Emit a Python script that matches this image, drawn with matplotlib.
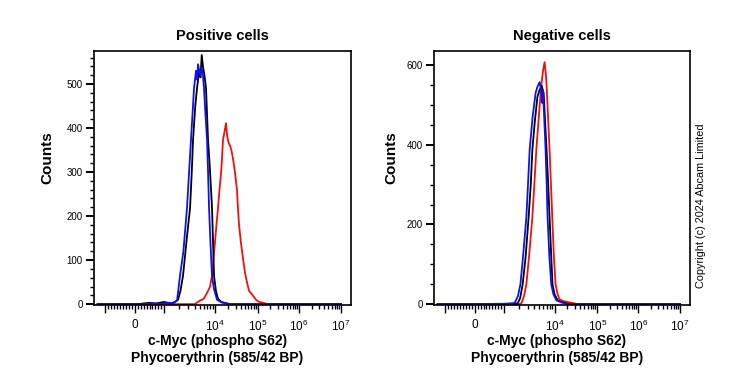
import numpy as np
import matplotlib
matplotlib.use("Agg")
import matplotlib.pyplot as plt
from matplotlib.ticker import FixedLocator, FixedFormatter

plt.rcParams['font.family'] = ['Liberation Sans', 'DejaVu Sans']
plt.rcParams['mathtext.fontset'] = 'custom'
plt.rcParams['mathtext.rm'] = 'Liberation Sans'
plt.rcParams['mathtext.default'] = 'regular'

# ---- data: fluorescence intensity (PE) vs counts ----
# Positive cells
pos_red_x = [-1500, 4000, 5080, 6000, 7290, 8000, 8730, 9300, 10000, 10800, 11740, 12700,
             13790, 14500, 15350, 16500, 18030, 19000, 20000, 21000, 22340, 24000, 26220,
             29000, 32500, 34000, 36150, 40000, 44780, 50000, 55480, 62000, 76500, 90000,
             100000, 120000, 145600, 170000, 1e7]
pos_red_y = [0, 0, 8, 12, 30, 40, 65, 100, 142, 180, 219, 260,
             297, 330, 374, 390, 411, 385, 372, 365, 360, 350, 330,
             300, 258, 220, 180, 140, 103, 70, 49, 30, 19, 10,
             6, 4, 2, 0, 0]

pos_black_x = [-1500, 100, 500, 700, 1000, 1300, 1600, 1880, 2100, 2360, 2800, 3240, 3500,
               3710, 4100, 4430, 4900, 5200, 5490, 5800, 6200, 6660, 7290, 8000, 8730,
               9200, 9550, 10500, 11700, 14000, 18000, 23000, 1e7]
pos_black_y = [0, 0, 3, 1, 5, 2, 4, 10, 30, 65, 150, 219, 300,
               374, 450, 490, 530, 515, 566, 540, 520, 490, 374, 300, 219,
               130, 65, 30, 12, 5, 2, 0, 0]

pos_blue_x = [-1500, 300, 600, 900, 1200, 1500, 1800, 2060, 2400, 2825, 3100, 3380, 3700,
              3870, 4240, 4450, 4650, 5080, 5480, 5800, 6080, 6500, 6970, 7300, 7630,
              8200, 8730, 9500, 11130, 14000, 17000, 22000, 1e7]
pos_blue_y = [0, 0, 2, 1, 3, 2, 8, 65, 120, 219, 300, 374, 450,
              490, 530, 510, 545, 520, 535, 520, 490, 430, 374, 300, 219,
              130, 65, 35, 10, 4, 2, 0, 0]

# Negative cells
neg_red_x = [-1500, 2000, 2223, 2500, 2786, 3200, 3656, 4000, 4375, 4900, 5485, 6000, 6368,
             6700, 6966, 7500, 7980, 8500, 9015, 9700, 10550, 11800, 13060, 16000, 21000,
             27000, 34000, 1e7]
neg_red_y = [0, 0, 2, 20, 50, 130, 218, 300, 387, 470, 550, 590, 607,
             580, 550, 460, 387, 300, 218, 120, 50, 25, 12, 8, 5,
             3, 0, 0]

neg_black_x = [-1500, 1500, 1882, 2100, 2358, 2700, 3087, 3400, 3656, 4100, 4600, 5000, 5550,
               6100, 6500, 6966, 7500, 7980, 8600, 9120, 10000, 11740, 15000, 19000, 25000, 1e7]
neg_black_y = [0, 0, 2, 15, 50, 120, 218, 300, 387, 460, 520, 535, 548,
               530, 460, 387, 300, 218, 120, 50, 25, 10, 5, 2, 0, 0]

neg_blue_x = [-1500, 600, 700, 1000, 1300, 1643, 1900, 2128, 2400, 2786, 3000, 3236, 3700,
              4238, 4600, 5080, 5400, 5700, 5900, 6200, 6662, 7000, 7290, 7900, 8605,
              9500, 11000, 14000, 17000, 22000, 1e7]
neg_blue_y = [0, 0, 1, 1, 2, 3, 20, 50, 120, 218, 300, 387, 470,
              530, 545, 557, 540, 505, 535, 480, 387, 300, 218, 120, 50,
              25, 10, 5, 2, 0, 0]

titles = ["Positive cells", "Negative cells"]
xlabel = "c-Myc (phospho S62)\nPhycoerythrin (585/42 BP)"

# ---- biexponential-like axis (linear near 0, log above 1e3) ----
anchor_vals = np.array([-1e5, -1e3, 0, 1e3, 1e4, 1e5, 1e6, 1e7, 1e9])
anchor_pos = np.array([-114, -30, 0, 29, 80, 123, 164, 206, 290], dtype=float)


def _h(x):
    x = np.asarray(x, dtype=float)
    a = np.abs(x)
    return np.where(a <= 1000, x / 1000,
                    np.sign(x) * (1 + np.log10(np.maximum(a, 1000) / 1000)))


def _h_inv(u):
    u = np.asarray(u, dtype=float)
    a = np.abs(u)
    return np.where(a <= 1, u * 1000, np.sign(u) * 1000 * 10 ** (np.maximum(a, 1) - 1))


anchor_h = _h(anchor_vals)


def forward(x):
    return np.interp(_h(x), anchor_h, anchor_pos)


def inverse(p):
    return _h_inv(np.interp(p, anchor_pos, anchor_h))


major_x = [-1000, 0, 1000, 1e4, 1e5, 1e6, 1e7]
major_lbl = ["", "0", "", "10$^4$", "10$^5$", "10$^6$", "10$^7$"]
minor_x = [v for v in range(-900, 1000, 100) if v != 0]
for k in range(3, 7):
    minor_x += [m * 10 ** k for m in range(2, 10)]

fig = plt.figure(figsize=(7.39, 3.70), dpi=100)
ax1 = fig.add_axes([0.1272, 0.1757, 0.3478, 0.6865])
ax2 = fig.add_axes([0.5873, 0.1757, 0.3464, 0.6865])

curves = [
    [(pos_red_x, pos_red_y, '#ee1111'), (pos_black_x, pos_black_y, '#000000'),
     (pos_blue_x, pos_blue_y, '#1010ee')],
    [(neg_red_x, neg_red_y, '#ee1111'), (neg_black_x, neg_black_y, '#000000'),
     (neg_blue_x, neg_blue_y, '#1010ee')],
]

for i, ax in enumerate([ax1, ax2]):
    for xs, ys, c in curves[i]:
        ax.plot(xs, ys, color=c, lw=1.3)
    ax.set_xscale('function', functions=(forward, inverse))
    ax.set_xlim(-1830, 1.73e7)
    ax.xaxis.set_major_locator(FixedLocator(major_x))
    ax.xaxis.set_major_formatter(FixedFormatter(major_lbl))
    ax.xaxis.set_minor_locator(FixedLocator(minor_x))
    ax.tick_params(axis='x', which='major', length=6, width=1, labelsize=8.5, pad=4)
    ax.tick_params(axis='x', which='minor', length=3, width=1)
    ax.tick_params(axis='y', which='major', length=6, width=1.4, labelsize=7, pad=2)
    ax.tick_params(axis='y', which='minor', length=3, width=1)
    for s in ax.spines.values():
        s.set_linewidth(1.2)
    ax.set_title(titles[i], fontsize=10.5, fontweight='bold', pad=8)
    ax.set_ylabel("Counts", fontsize=11, fontweight='bold')
    ax.set_xlabel(xlabel, fontsize=10, fontweight='bold', linespacing=1.25)
    ax.xaxis.set_label_coords(0.48, -0.115)

ax1.set_ylim(-2, 575)
ax1.yaxis.set_major_locator(FixedLocator(range(0, 501, 100)))
ax1.yaxis.set_minor_locator(FixedLocator([v for v in range(0, 575, 20) if v % 100]))
ax1.yaxis.set_label_coords(-0.155, 0.58)

ax2.set_ylim(-2, 635)
ax2.yaxis.set_major_locator(FixedLocator([0, 200, 400, 600]))
ax2.yaxis.set_minor_locator(FixedLocator([v for v in range(0, 635, 50) if v % 200]))
ax2.yaxis.set_label_coords(-0.139, 0.58)

fig.text(0.9486, 0.443, "Copyright (c) 2024 Abcam Limited", rotation=90,
         ha='center', va='center', fontsize=7.8)

fig.savefig("out.png", dpi=100)
